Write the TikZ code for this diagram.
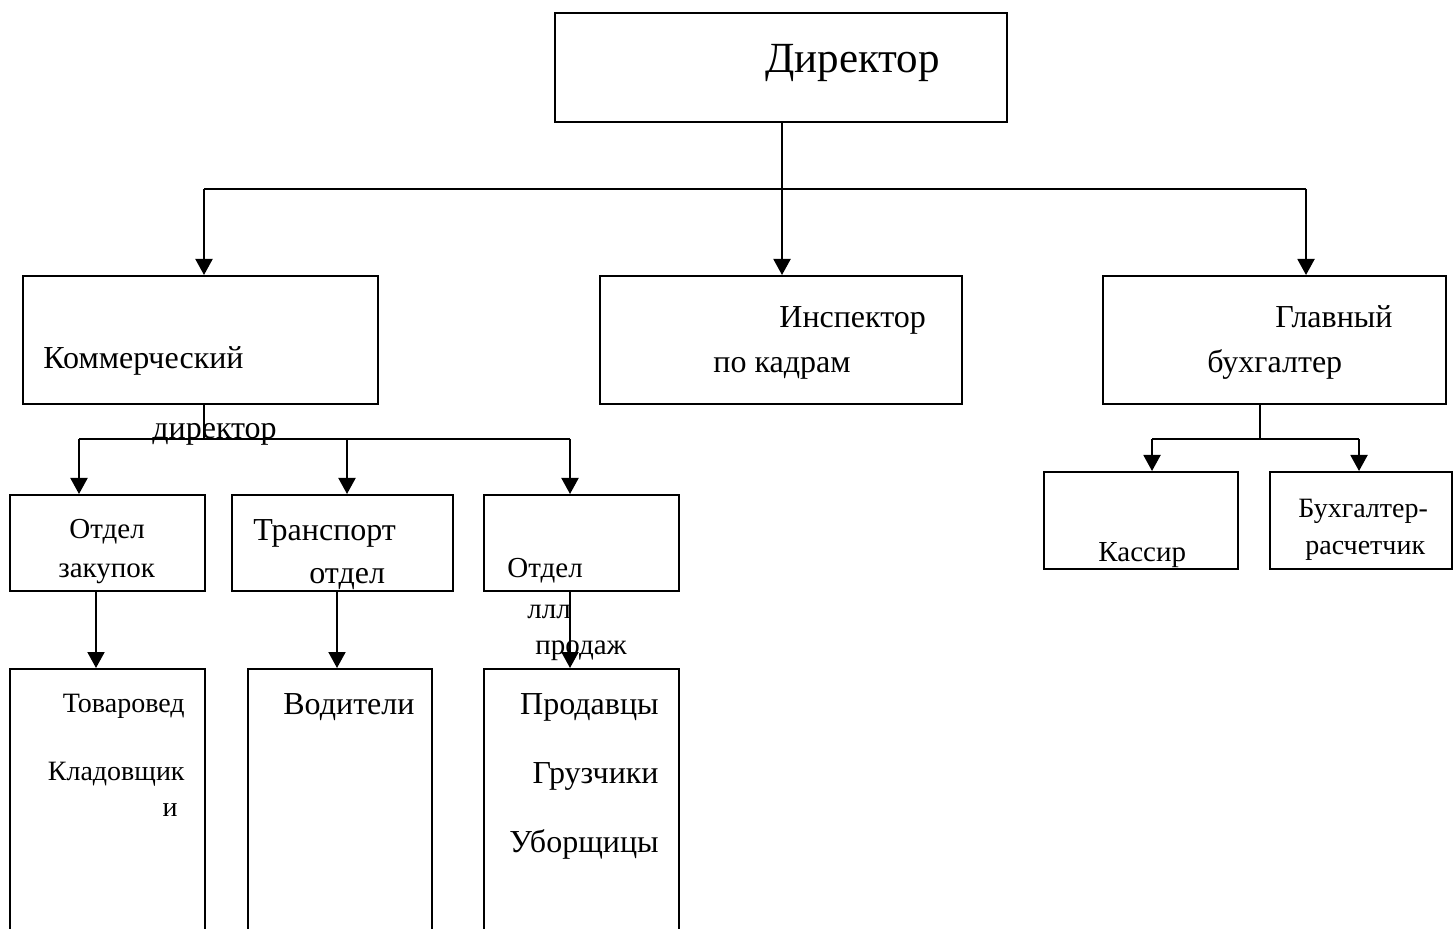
\documentclass[tikz,border=0pt]{standalone}
\usepackage{fontspec}
\setmainfont{Liberation Serif}
\usetikzlibrary{arrows.meta}
\tikzset{
  box/.style={draw, line width=1pt, inner sep=0pt, rectangle},
  ln/.style={line width=1pt},
  arr/.style={line width=1pt, -{Triangle[width=8.5pt,length=8pt]}},
  lbl/.style={inner sep=0pt, font=\fontsize{16}{19}\selectfont},
  lbls/.style={inner sep=0pt, font=\fontsize{14.5}{17}\selectfont},
  lblx/.style={inner sep=0pt, font=\fontsize{14}{17}\selectfont},
  lblb/.style={inner sep=0pt, font=\fontsize{21.5}{25}\selectfont}
}
\begin{document}
\begin{tikzpicture}[x=0.5pt,y=-0.5pt]
\useasboundingbox (0,0) rectangle (1454,929);
\clip (0,0) rectangle (1454,929);
\fill[white] (0,0) rectangle (1454,929);
% boxes
\node[box, minimum width=226pt, minimum height=54.5pt] (dir) at (781,67.5) {};
\node[box, minimum width=177.5pt, minimum height=64pt] (kom) at (200.5,340) {};
\node[box, minimum width=181pt, minimum height=64pt] (insp) at (781,340) {};
\node[box, minimum width=171.5pt, minimum height=64pt] (glav) at (1274.5,340) {};
\node[box, minimum width=97pt, minimum height=48.5pt] (kas) at (1141,520.5) {};
\node[box, minimum width=91pt, minimum height=48.5pt] (buh) at (1361,520.5) {};
\node[box, minimum width=97.5pt, minimum height=48pt] (zak) at (107.5,543) {};
\node[box, minimum width=110.5pt, minimum height=48pt] (tr) at (342.5,543) {};
\node[box, minimum width=97.5pt, minimum height=48pt] (prod) at (581.5,543) {};
\node[box, minimum width=97.5pt, minimum height=135.5pt] (bz) at (107.5,804.5) {};
\node[box, minimum width=92pt, minimum height=135.5pt] (bt) at (340,804.5) {};
\node[box, minimum width=97.5pt, minimum height=135.5pt] (bp) at (581.5,804.5) {};
% texts
\node[lblb, anchor=mid west] (tdir) at (765,68) {Директор};
\node[lbl, anchor=mid west] (tins1) at (779,323) {Инспектор};
\node[lbl, anchor=mid west] (tins2) at (713,368) {по кадрам};
\node[lbl, anchor=mid west] (tgl1) at (1275,323) {Главный};
\node[lbl, anchor=mid west] (tgl2) at (1207,368) {бухгалтер};
\node[lbl, anchor=mid west] (tkom1) at (43,364) {Коммерческий};
\node[lbl, anchor=mid west] (tkom2) at (152,434) {директор};
\node[lbls, anchor=mid west] (tzak1) at (69,534) {Отдел};
\node[lbls, anchor=mid west] (tzak2) at (58,573) {закупок};
\node[lbl, anchor=mid west] (ttr1) at (253,536) {Транспорт};
\node[lbl, anchor=mid west] (ttr2) at (309,579) {отдел};
\node[lbls, anchor=mid west] (tpr1) at (507,573) {Отдел};
\node[lbls, anchor=mid west] (tpr2) at (527,614) {ллл};
\node[lbls, anchor=mid west] (tpr3) at (535,650) {продаж};
\node[lbls, anchor=mid west] (tkas) at (1098,557) {Кассир};
\node[lblx, anchor=mid west] (tbuh1) at (1298,513) {Бухгалтер-};
\node[lblx, anchor=mid west] (tbuh2) at (1305,550) {расчетчик};
\node[lblx, anchor=mid east] (tb1) at (185,708) {Товаровед};
\node[lblx, anchor=mid east] (tb2) at (185,776) {Кладовщик};
\node[lblx, anchor=mid east] (tb3) at (178,812) {и};
\node[lbl, anchor=mid west] (tv) at (283,710) {Водители};
\node[lbl, anchor=mid east] (tp1) at (659,710) {Продавцы};
\node[lbl, anchor=mid east] (tp2) at (659,779) {Грузчики};
\node[lbl, anchor=mid east] (tp3) at (659,848) {Уборщицы};
% connectors
\coordinate (j0) at (782,189);
\coordinate (jl) at (204,189);
\coordinate (jr) at (1306,189);
\draw[arr] (dir.south -| j0) -- (insp.north -| j0);
\draw[ln] (jl) -- (jr);
\draw[arr] (jl) -- (kom.north -| jl);
\draw[arr] (jr) -- (glav.north -| jr);
\coordinate (kb) at (204,439);
\coordinate (k1) at (79,439);
\coordinate (k2) at (347,439);
\coordinate (k3) at (570,439);
\draw[ln] (kom.south -| kb) -- (kb);
\draw[ln] (k1) -- (k3);
\draw[arr] (k1) -- (zak.north -| k1);
\draw[arr] (k2) -- (tr.north -| k2);
\draw[arr] (k3) -- (prod.north -| k3);
\coordinate (gb) at (1260,439);
\coordinate (g1) at (1152,439);
\coordinate (g2) at (1359,439);
\draw[ln] (glav.south -| gb) -- (gb);
\draw[ln] (g1) -- (g2);
\draw[arr] (g1) -- (kas.north -| g1);
\draw[arr] (g2) -- (buh.north -| g2);
\coordinate (d1) at (96,600);
\coordinate (d2) at (337,600);
\coordinate (d3) at (570,600);
\draw[arr] (zak.south -| d1) -- (bz.north -| d1);
\draw[arr] (tr.south -| d2) -- (bt.north -| d2);
\draw[arr] (prod.south -| d3) -- (bp.north -| d3);
\end{tikzpicture}
\end{document}
